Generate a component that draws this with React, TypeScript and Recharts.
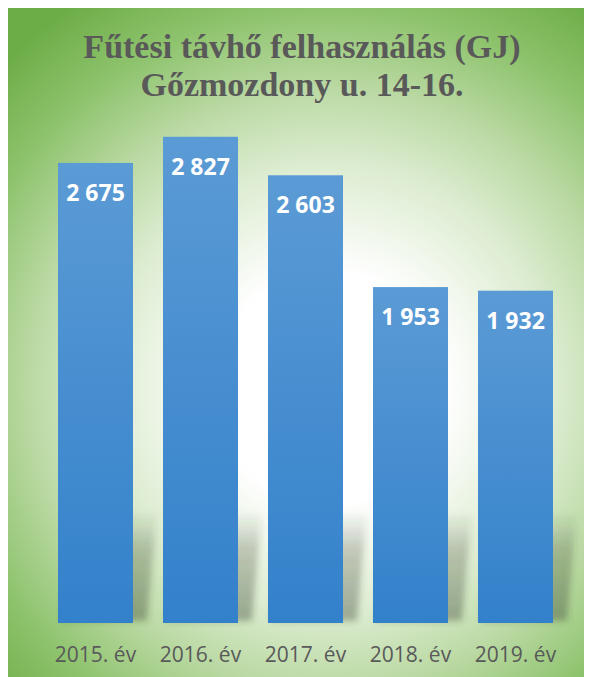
import React from 'react';
import { BarChart, Bar, XAxis, YAxis, LabelList } from 'recharts';

const categories = ['2015. év', '2016. év', '2017. év', '2018. év', '2019. év'];
const values = [2675, 2827, 2603, 1953, 1932];
const titleLines = ['Fűtési távhő felhasználás (GJ)', 'Gőzmozdony u. 14-16.'];

const data = categories.map((c, i) => ({ name: c, value: values[i] }));

const fmt = (v: number) => {
  const s = String(v);
  return s.replace(/\B(?=(\d{3})+(?!\d))/g, ' ');
};

const BarShape = (props: any) => {
  const { x, y, width, height, index } = props;
  const bottom = y + height;
  const shTop = bottom - 112;
  const shBot = bottom - 2;
  const gid = `shg${index}`;
  const fid = `shf${index}`;
  const bid = `bg${index}`;
  return (
    <g>
      <defs>
        <linearGradient id={gid} x1="0" y1="0" x2="0" y2="1">
          <stop offset="0" stopColor="#303828" stopOpacity={0} />
          <stop offset="0.35" stopColor="#303828" stopOpacity={0.24} />
          <stop offset="1" stopColor="#303828" stopOpacity={0.36} />
        </linearGradient>
        <filter id={fid} x="-30%" y="-30%" width="160%" height="160%">
          <feGaussianBlur stdDeviation="3" />
        </filter>
        <linearGradient id={bid} x1="0" y1="0" x2="0" y2="1">
          <stop offset="0" stopColor="#5b9bd5" />
          <stop offset="1" stopColor="#3381cb" />
        </linearGradient>
      </defs>
      <polygon
        points={`${x + 4},${shBot} ${x + width + 14},${shBot} ${x + width + 24},${shTop} ${x + 14},${shTop}`}
        fill={`url(#${gid})`}
        filter={`url(#${fid})`}
      />
      <rect x={x} y={y} width={width} height={height} fill={`url(#${bid})`} />
    </g>
  );
};

const ValueLabel = (props: any) => {
  const { x, y, width, value } = props;
  return (
    <text
      x={x + width / 2}
      y={y + 38}
      textAnchor="middle"
      fill="#ffffff"
      fontFamily="'Open Sans', sans-serif"
      fontWeight={700}
      fontSize={23}
    >
      {fmt(value)}
    </text>
  );
};

const CatTick = (props: any) => {
  const { x, y, payload } = props;
  return (
    <text
      x={x}
      y={y}
      dy={31}
      textAnchor="middle"
      fill="#595959"
      fontFamily="'Open Sans', sans-serif"
      fontSize={21}
    >
      {payload.value}
    </text>
  );
};

export default function App() {
  return (
    <div
      style={{
        position: 'relative',
        width: 585,
        height: 670,
        marginLeft: -1,
        marginTop: -1,
        borderLeft: '1px solid #d4d4d4',
        borderTop: '1px solid #d4d4d4',
        overflow: 'hidden',
      }}
    >
      <div
        style={{
          position: 'absolute',
          left: 0,
          top: 0,
          width: 585,
          height: 670,
          background:
            'radial-gradient(circle at 322px 380px, #ffffff 0px, #ffffff 115px, #dcecd0 225px, #bad9a3 300px, #8ec36d 380px, #6dad47 460px)',
        }}
      />
      <div
        style={{
          position: 'absolute',
          left: 0,
          top: 20,
          width: 588,
          textAlign: 'center',
          fontFamily: "'Liberation Serif', 'Times New Roman', serif",
          fontWeight: 700,
          fontSize: 34,
          lineHeight: '38.4px',
          color: '#595959',
        }}
      >
        {titleLines.map((t) => (
          <div key={t}>{t}</div>
        ))}
      </div>
      <div style={{ position: 'absolute', left: 0, top: 0 }}>
        <BarChart
          width={584}
          height={669}
          data={data}
          margin={{ top: 99, right: 24, bottom: 14, left: 35 }}
        >
          <XAxis
            dataKey="name"
            axisLine={false}
            tickLine={false}
            height={40}
            tick={<CatTick />}
            interval={0}
          />
          <YAxis hide domain={[0, 3000]} />
          <Bar dataKey="value" barSize={75} isAnimationActive={false} shape={<BarShape />}>
            <LabelList dataKey="value" content={<ValueLabel />} />
          </Bar>
        </BarChart>
      </div>
    </div>
  );
}
